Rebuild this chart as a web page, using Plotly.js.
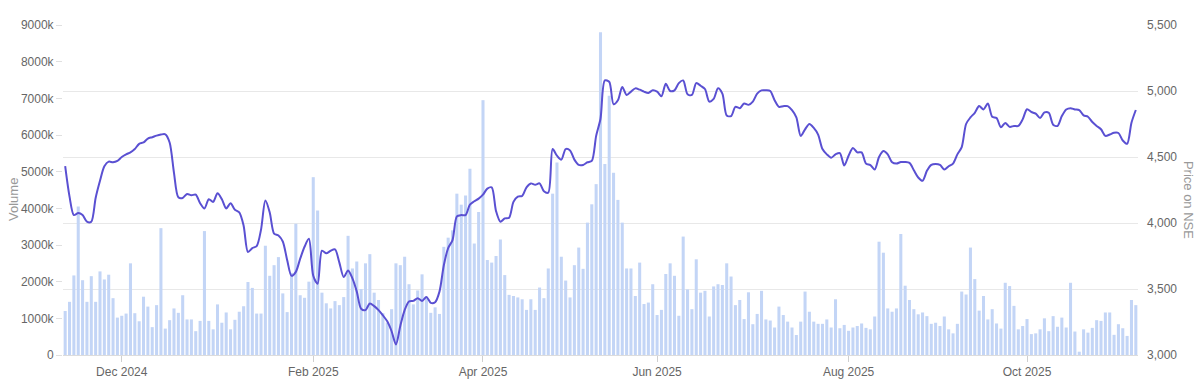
<!DOCTYPE html>
<html>
<head>
<meta charset="utf-8">
<script src="https://cdn.plot.ly/plotly-3.0.1.min.js"></script>
<style>html,body{margin:0;padding:0;background:#fff;}#chart{width:1203px;height:381px;}</style>
</head>
<body>
<div id="chart"></div>
<script>
// Trading calendar (NSE): first session, last session, holidays and special sessions
const firstSession = '2024-11-11';
const lastSession = '2025-11-10';
const holidays = ['2024-11-15','2024-11-20','2024-12-25','2025-02-26','2025-03-14','2025-03-31',
  '2025-04-10','2025-04-14','2025-04-18','2025-05-01','2025-08-15','2025-08-27','2025-10-02',
  '2025-10-22','2025-11-05'];
const specialSessions = ['2025-02-01'];

// Daily traded volume, thousands of shares
const volumeK = [
1200,1450,2170,4050,2040,1450,2150,1450,2280,2060,2190,1550,1020,1070,1130,2500,1140,920,1590,1320,
760,1360,3460,720,950,1270,1150,1630,970,970,650,930,3380,930,700,1380,880,1160,700,960,
1180,1330,1990,1830,1130,1130,2980,2160,2450,2670,1680,1170,2240,3580,1630,1560,2000,4850,3940,1700,
1410,1270,1470,1360,1580,3250,2360,2550,1800,2500,2750,1700,1500,1140,880,1250,2500,2450,2680,1930,
1380,1760,2200,1600,1150,1300,1120,2950,3200,3400,4400,4100,4350,5080,3040,3900,6950,2590,2520,2700,
3150,2180,1640,1610,1570,1520,1230,1520,1230,1840,1550,2360,4400,5250,2680,2030,1570,2450,2930,2350,
3610,4110,4660,8800,5210,7070,4970,4230,3610,2360,2360,1610,2520,1390,1430,1930,1090,1230,2210,2500,
2160,1070,3230,1790,1250,2610,1700,1750,1050,1870,1930,1910,2500,2140,1360,1500,980,1710,840,1120,
1750,970,940,750,1320,1090,910,750,545,910,1730,1180,910,850,850,970,750,1520,730,820,
660,750,790,860,740,700,1050,3090,2790,1270,1180,1270,3300,1890,1500,1250,1110,1160,1060,850,
880,790,1050,700,590,850,1730,1650,2930,2070,1210,1610,970,1250,860,720,1970,1880,1340,700,
790,980,570,590,700,1000,650,1060,770,1020,750,1970,640,90,700,610,740,950,930,1160,
1160,550,840,730,520,1500,1360];

// Closing price on NSE
const price = [
4430,4200,4060,4075,4060,4010,4010,4190,4320,4430,4465,4460,4470,4500,4520,4535,4560,4600,4610,4640,
4650,4662,4670,4672,4610,4380,4195,4190,4220,4210,4215,4150,4110,4180,4160,4225,4180,4110,4150,4100,
4080,3980,3780,3810,3825,3950,4170,4080,3920,3905,3860,3720,3600,3630,3730,3820,3880,3600,3540,3790,
3770,3790,3800,3700,3590,3640,3580,3480,3350,3340,3390,3370,3340,3300,3255,3180,3080,3220,3340,3405,
3410,3430,3410,3440,3395,3400,3480,3680,3810,3870,4050,4060,4060,4140,4165,4185,4215,4260,4270,4090,
4010,4035,4040,4160,4200,4205,4270,4300,4290,4300,4240,4230,4560,4510,4480,4560,4550,4480,4440,4440,
4460,4470,4660,4790,5080,5070,4900,4930,5030,4970,4995,5020,5010,4995,4985,5005,4995,4960,5055,5000,
5005,5060,5080,4975,4970,5060,5040,5015,4920,4940,5020,4980,4815,4810,4880,4870,4905,4895,4920,4980,
5005,5005,5000,4930,4880,4885,4885,4855,4800,4660,4710,4750,4720,4670,4560,4520,4495,4520,4530,4435,
4510,4568,4535,4535,4450,4439,4405,4500,4545,4520,4460,4450,4462,4462,4455,4400,4345,4320,4395,4440,
4447,4440,4405,4430,4450,4520,4575,4750,4800,4835,4886,4860,4905,4805,4795,4725,4758,4728,4735,4735,
4785,4862,4841,4828,4795,4838,4835,4745,4735,4810,4860,4870,4860,4856,4815,4805,4765,4735,4710,4660,
4670,4684,4682,4625,4600,4760,4856];

// Axis labels
const monthTickDates = ['2024-12-02','2025-02-01','2025-04-01','2025-06-02','2025-08-01','2025-10-01'];
const monthTickLabels = ['Dec 2024','Feb 2025','Apr 2025','Jun 2025','Aug 2025','Oct 2025'];
const volumeTickVals = [0,1000,2000,3000,4000,5000,6000,7000,8000,9000];
const volumeTickLabels = ['0','1000k','2000k','3000k','4000k','5000k','6000k','7000k','8000k','9000k'];
const priceTickVals = [3000,3500,4000,4500,5000,5500];

// Build the list of trading sessions from the calendar
function iso(d){return d.toISOString().slice(0,10);}
const dates = [];
for (let d = new Date(firstSession+'T00:00:00Z'); iso(d) <= lastSession; d.setUTCDate(d.getUTCDate()+1)) {
  const s = iso(d), wd = d.getUTCDay();
  if (specialSessions.includes(s) || (wd !== 0 && wd !== 6 && !holidays.includes(s))) dates.push(s);
}

const font = {family: '"Liberation Sans", Arial, sans-serif', size: 12, color: '#666'};

const traces = [
  {type:'bar', x: dates, y: volumeK, name:'Volume', marker:{color:'#c3d5f6'}, yaxis:'y', hoverinfo:'skip'},
  {type:'scatter', mode:'lines', x: dates, y: price, name:'Price', yaxis:'y2',
   line:{color:'#5a50d2', width:2, shape:'spline', smoothing:0.8}, hoverinfo:'skip'}
];

const layout = {
  width:1203, height:381,
  margin:{l:63, r:65, t:25, b:26},
  paper_bgcolor:'#fff', plot_bgcolor:'#fff',
  font: font,
  showlegend:false,
  bargap:0.3,
  xaxis:{type:'category', tickmode:'array', tickvals: monthTickDates, ticktext: monthTickLabels,
    showgrid:false, zeroline:false, showline:true, linecolor:'#dcdcdc', linewidth:1,
    ticks:'outside', ticklen:6, tickcolor:'#cfcfcf', tickfont: font, fixedrange:true},
  yaxis:{range:[0,9000], tickmode:'array', tickvals: volumeTickVals, ticktext: volumeTickLabels,
    showgrid:false, zeroline:false, showline:false, ticks:'outside', ticklen:6, tickcolor:'#e0e0e0',
    tickfont: font, fixedrange:true},
  yaxis2:{range:[3000,5500], overlaying:'y', side:'right', tickmode:'array', tickvals: priceTickVals,
    tickformat:',d', showgrid:true, gridcolor:'#e8e8e8', gridwidth:1, zeroline:false, showline:false,
    ticks:'', ticklabelstandoff:8, tickfont: font, fixedrange:true},
  annotations:[
    {text:'Volume', xref:'paper', yref:'paper', x:-0.0455, y:0.47, showarrow:false, textangle:-90,
     font:{family:font.family, size:13, color:'#999'}, xanchor:'center', yanchor:'middle'},
    {text:'Price on NSE', xref:'paper', yref:'paper', x:1.0465, y:0.47, showarrow:false, textangle:90,
     font:{family:font.family, size:13, color:'#999'}, xanchor:'center', yanchor:'middle'}
  ]
};

Plotly.newPlot('chart', traces, layout, {displayModeBar:false, staticPlot:true});
</script>
</body>
</html>
